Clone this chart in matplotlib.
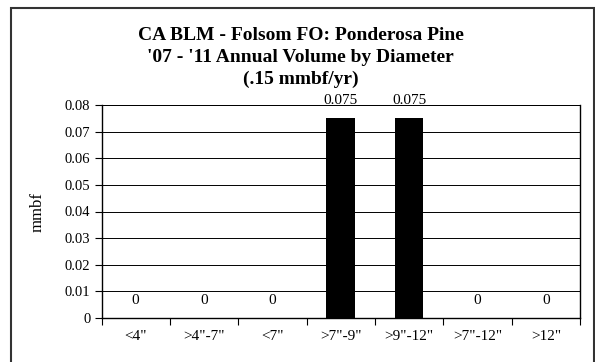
import numpy as np
import matplotlib.pyplot as plt
from matplotlib.patches import Rectangle

plt.rcParams["font.family"] = ["Liberation Serif", "DejaVu Serif"]

categories = ['<4"', '>4"-7"', '<7"', '>7"-9"', '>9"-12"', '>7"-12"', '>12"']
volumes = [0, 0, 0, 0.075, 0.075, 0, 0]
value_labels = ["0", "0", "0", "0.075", "0.075", "0", "0"]

fig = plt.figure(figsize=(5.95, 3.62), dpi=100)
ax = fig.add_axes([101.5 / 595, 1 - 318 / 362, (580 - 101.5) / 595, (318 - 105) / 362])

# outer chart frame (bottom edge runs off the picture)
fig.patches.append(Rectangle((10.5 / 595, -0.1), (594 - 10.5) / 595, 1.1 - 8.5 / 362,
                             transform=fig.transFigure, fill=False,
                             edgecolor="#333333", linewidth=1.5, clip_on=False))

x = np.arange(len(categories))
ax.bar(x, volumes, width=0.42, color="black", zorder=3)

for xi, v, lab in zip(x, volumes, value_labels):
    ax.annotate(lab, (xi, v), xytext=(0, 8), textcoords="offset points",
                ha="center", va="bottom", fontsize=11, annotation_clip=False)

ax.set_xlim(-0.5, len(categories) - 0.5)
ax.set_ylim(0, 0.08)
ax.set_yticks(np.arange(0, 0.081, 0.01))
ax.set_yticklabels(["0"] + ["%.2f" % t for t in np.arange(0.01, 0.081, 0.01)])
ax.yaxis.grid(True, color="black", linewidth=0.7)
ax.set_axisbelow(True)

ax.set_xticks(x)
ax.set_xticklabels(categories)
ax.set_xticks(np.arange(-0.5, len(categories), 1.0), minor=True)
ax.tick_params(axis="x", which="major", length=0, pad=9, labelsize=11)
ax.tick_params(axis="x", which="minor", length=5, width=0.8, direction="out")
ax.tick_params(axis="y", length=5, width=0.8, direction="out", labelsize=10.5, pad=3)

for side in ["left", "bottom", "right"]:
    ax.spines[side].set_linewidth(1.0)
ax.spines["top"].set_linewidth(0.7)

ax.set_ylabel("mmbf", fontsize=12, labelpad=14)

fig.text(0.505, 1 - 57.5 / 362, "CA BLM - Folsom FO: Ponderosa Pine\n'07 - '11 Annual Volume by Diameter\n(.15 mmbf/yr)",
         ha="center", va="center", fontsize=14, fontweight="bold", linespacing=1.38)

fig.savefig("out.png", dpi=100)
